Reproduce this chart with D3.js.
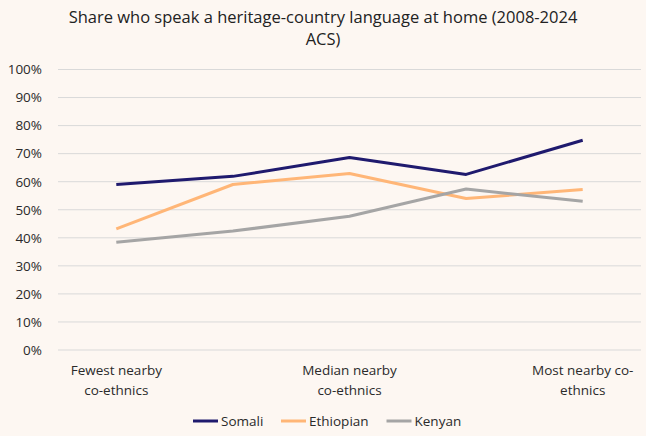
<!DOCTYPE html>
<html>
<head>
<meta charset="utf-8">
<script src="https://cdn.jsdelivr.net/npm/d3@7"></script>
<style>
  html, body { margin: 0; padding: 0; background: #fdf7f2; }
  svg { display: block; font-family: "Open Sans", sans-serif; }
</style>
</head>
<body>
<svg id="chart" width="646" height="436"></svg>
<script>
// categories (only 1st, 3rd, 5th are labelled on the axis)
const categories = ["c1", "c2", "c3", "c4", "c5"];
const categoryLabels = [
  ["Fewest nearby", "co-ethnics"],
  [],
  ["Median nearby", "co-ethnics"],
  [],
  ["Most nearby co-", "ethnics"]
];

const seriesNames = ["Somali", "Ethiopian", "Kenyan"];
const somali    = [0.590, 0.619, 0.686, 0.626, 0.748];
const ethiopian = [0.432, 0.590, 0.629, 0.540, 0.572];
const kenyan    = [0.384, 0.424, 0.477, 0.574, 0.530];
const yTicks = [0, 0.1, 0.2, 0.3, 0.4, 0.5, 0.6, 0.7, 0.8, 0.9, 1.0];

const colors = ["#1f1a6e", "#ffb677", "#a5a5a5"];
const series = [somali, ethiopian, kenyan];

const svg = d3.select("#chart");
const width = 646, height = 436;
const margin = { top: 69.5, right: 5, bottom: 86, left: 58 };
const innerWidth = width - margin.left - margin.right;
const innerHeight = height - margin.top - margin.bottom;

// title
svg.append("text")
    .attr("x", 323)
    .attr("y", 23)
    .attr("text-anchor", "middle")
    .attr("font-size", 16.5)
    .attr("fill", "#222")
    .selectAll("tspan")
    .data(["Share who speak a heritage-country language at home (2008-2024", "ACS)"])
    .enter()
    .append("tspan")
    .attr("x", 323)
    .attr("dy", (d, i) => i === 0 ? 0 : 22)
    .text(d => d);

const g = svg.append("g").attr("transform", `translate(${margin.left},${margin.top})`);

const x = d3.scaleBand()
    .domain(categories)
    .range([0, innerWidth]);

const y = d3.scaleLinear()
    .domain([0, 1])
    .range([innerHeight, 0]);

// gridlines
g.selectAll(".grid")
    .data(yTicks)
    .enter()
    .append("line")
    .attr("class", "grid")
    .attr("x1", 0)
    .attr("x2", innerWidth)
    .attr("y1", d => y(d))
    .attr("y2", d => y(d))
    .attr("stroke", "#d9d9d9")
    .attr("stroke-width", 1);

// y axis labels (axis group sits at the right edge of the labels)
const yAxis = svg.append("g")
    .attr("transform", `translate(42,${margin.top})`)
    .call(d3.axisLeft(y).tickValues(yTicks).tickFormat(d3.format(".0%")).tickSize(0).tickPadding(0));
yAxis.select(".domain").remove();
yAxis.selectAll("text")
    .attr("font-size", 13.5)
    .attr("font-family", "Open Sans, sans-serif")
    .attr("fill", "#2a2a2a");

// x axis labels, only for labelled categories
const labelled = categories.filter((c, i) => categoryLabels[i].length);
const xLabels = g.append("g")
    .attr("transform", `translate(0,${innerHeight})`);
xLabels.selectAll("text")
    .data(labelled)
    .enter()
    .append("text")
    .attr("text-anchor", "middle")
    .attr("font-size", 13.5)
    .attr("fill", "#2a2a2a")
    .attr("y", 25)
    .each(function(c) {
        const cx = x(c) + x.bandwidth() / 2;
        d3.select(this).selectAll("tspan")
            .data(categoryLabels[categories.indexOf(c)])
            .enter()
            .append("tspan")
            .attr("x", cx)
            .attr("dy", (d, i) => i === 0 ? 0 : 19.5)
            .text(d => d);
    });

// lines
const line = d3.line()
    .x((d, i) => x(categories[i]) + x.bandwidth() / 2)
    .y(d => y(d));

g.selectAll(".series")
    .data(series)
    .enter()
    .append("path")
    .attr("class", "series")
    .attr("d", d => line(d))
    .attr("fill", "none")
    .attr("stroke", (d, i) => colors[i])
    .attr("stroke-width", 3)
    .attr("stroke-linejoin", "round");

// legend
const legendX = [193, 281, 386.5];
const legend = svg.append("g")
    .attr("transform", "translate(0,421)");
const items = legend.selectAll(".item")
    .data(seriesNames)
    .enter()
    .append("g")
    .attr("transform", (d, i) => `translate(${legendX[i]},0)`);
items.append("line")
    .attr("x1", 0).attr("x2", 25)
    .attr("stroke", (d, i) => colors[i])
    .attr("stroke-width", 3);
items.append("text")
    .attr("x", 28)
    .attr("dy", "0.35em")
    .attr("font-size", 13.5)
    .attr("fill", "#2a2a2a")
    .text(d => d);
</script>
</body>
</html>
